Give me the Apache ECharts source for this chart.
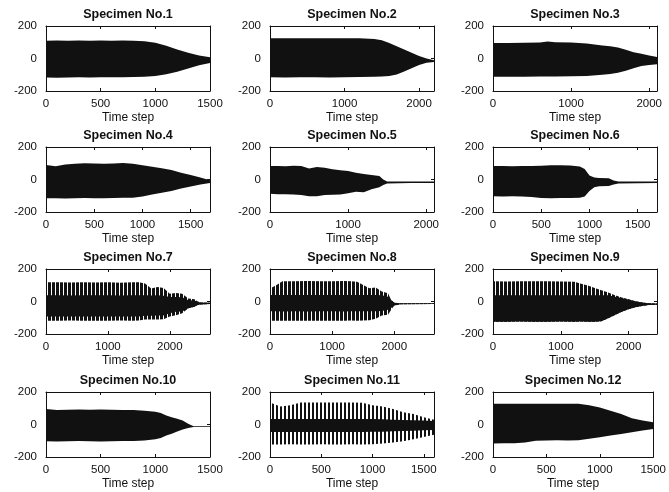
<!DOCTYPE html>
<html>
<head>
<meta charset="utf-8">
<script src="https://cdn.jsdelivr.net/npm/echarts@6/dist/echarts.min.js"></script>
<style>
html, body { margin: 0; padding: 0; background: #fff; }
#chart { width: 669px; height: 492px; }
</style>
</head>
<body>
<div id="chart"></div>
<script>
// envelope of each record (upper / lower amplitude read at time-step knots)
const spec1T  = [0, 100, 200, 300, 400, 500, 600, 700, 800, 900, 1000, 1100, 1200, 1300, 1400, 1500];
const spec1Hi = [110, 111, 110, 111, 110, 111, 110, 111, 110, 106, 97, 78, 55, 35, 18, 8];
const spec1Lo = [-117, -118, -117, -116, -117, -116, -116, -115, -114, -112, -108, -97, -82, -62, -42, -28];

const spec2T  = [0, 200, 400, 600, 800, 1000, 1200, 1400, 1500, 1600, 1700, 1800, 1900, 2000, 2100, 2200];
const spec2Hi = [125, 125, 124, 125, 124, 124, 124, 120, 112, 95, 75, 55, 35, 15, 0, -10];
const spec2Lo = [-115, -117, -116, -115, -117, -116, -114, -112, -110, -108, -98, -80, -60, -40, -26, -22];

const spec3T  = [0, 200, 400, 600, 700, 800, 1000, 1200, 1400, 1500, 1600, 1700, 1800, 1900, 2000, 2100];
const spec3Hi = [95, 96, 97, 98, 105, 100, 99, 92, 80, 75, 68, 54, 38, 29, 19, 10];
const spec3Lo = [-112, -113, -112, -111, -110, -110, -109, -108, -100, -95, -87, -75, -60, -46, -40, -35];

const spec4T  = [0, 100, 200, 300, 400, 500, 600, 700, 800, 900, 1000, 1100, 1200, 1300, 1400, 1500, 1600, 1700];
const spec4Hi = [90, 82, 92, 97, 100, 98, 97, 99, 102, 97, 87, 79, 69, 59, 42, 28, 12, -5];
const spec4Lo = [-115, -116, -117, -115, -114, -116, -115, -114, -113, -112, -104, -92, -82, -70, -56, -43, -31, -22];

const spec5T  = [0, 100, 200, 300, 400, 500, 600, 700, 800, 900, 1000, 1100, 1200, 1300, 1400, 1450, 1500, 1800, 2100];
const spec5Hi = [83, 83, 82, 84, 83, 67, 77, 73, 63, 57, 53, 42, 34, 27, 22, 0, -12, -12, -12];
const spec5Lo = [-88, -90, -90, -92, -95, -103, -103, -96, -94, -92, -84, -76, -79, -60, -48, -34, -24, -22, -22];

const spec6T  = [0, 100, 200, 300, 400, 500, 600, 700, 800, 900, 950, 1000, 1050, 1100, 1200, 1250, 1300, 1700];
const spec6Hi = [83, 83, 82, 83, 83, 84, 88, 88, 86, 80, 65, 24, 13, 9, 8, -6, -12, -12];
const spec6Lo = [-103, -104, -103, -104, -108, -114, -115, -114, -114, -112, -104, -70, -48, -42, -40, -30, -24, -22];

const spec7T  = [0, 200, 400, 600, 800, 1000, 1200, 1400, 1500, 1600, 1700, 1800, 1900, 2000, 2100, 2200, 2300, 2400, 2450, 2500, 2650];
const spec7Hi = [119, 118, 117, 118, 117, 118, 116, 119, 118, 111, 80, 89, 83, 48, 53, 48, 18, 14, 0, -6, -8];
const spec7Lo = [-119, -118, -117, -118, -119, -118, -117, -118, -117, -111, -110, -110, -109, -93, -85, -73, -42, -32, -22, -18, -16];
const spec7CoreHi = [38, 38, 37, 38, 38, 38, 37, 38, 38, 38, 37, 38, 36, 28, 27, 26, 8, 6, -2, -6, -8];
const spec7CoreLo = [-93, -92, -93, -92, -93, -93, -92, -93, -92, -87, -87, -86, -86, -73, -63, -62, -42, -32, -22, -18, -16];

const spec8T  = [0, 100, 200, 400, 600, 800, 1000, 1200, 1300, 1400, 1500, 1600, 1700, 1800, 1900, 1950, 2000, 2100, 2640];
const spec8Hi = [80, 100, 125, 124, 126, 125, 124, 126, 125, 122, 102, 82, 86, 61, 51, 10, -8, -10, -10];
const spec8Lo = [-118, -118, -119, -118, -118, -119, -118, -118, -117, -118, -117, -116, -106, -86, -82, -51, -24, -17, -16];
const spec8CoreHi = [40, 40, 40, 40, 40, 40, 40, 40, 40, 40, 40, 40, 40, 38, 30, 10, -8, -10, -10];
const spec8CoreLo = [-60, -60, -61, -60, -61, -60, -60, -61, -60, -60, -60, -60, -60, -58, -50, -40, -24, -17, -16];

const spec9T  = [0, 200, 400, 600, 800, 1000, 1200, 1300, 1400, 1500, 1600, 1700, 1800, 1900, 2000, 2100, 2200, 2300, 2420];
const spec9Hi = [124, 123, 124, 125, 124, 123, 122, 109, 99, 83, 69, 55, 38, 24, 14, 2, -6, -10, -12];
const spec9Lo = [-124, -124, -123, -124, -124, -123, -124, -123, -124, -124, -122, -103, -83, -63, -47, -35, -27, -22, -20];
const spec9CoreHi = [38, 38, 38, 38, 38, 38, 38, 38, 38, 38, 38, 38, 30, 22, 12, 2, -6, -10, -12];
const spec9CoreLo = [-124, -124, -123, -124, -124, -123, -124, -123, -124, -124, -122, -103, -83, -63, -47, -35, -27, -22, -20];

const spec10T  = [0, 100, 200, 300, 400, 500, 600, 700, 800, 900, 1000, 1050, 1100, 1150, 1200, 1250, 1300, 1350, 1500];
const spec10Hi = [95, 90, 91, 92, 91, 92, 91, 90, 89, 85, 79, 71, 55, 45, 35, 24, 4, -10, -10];
const spec10Lo = [-103, -104, -103, -102, -103, -104, -103, -102, -101, -98, -91, -83, -67, -57, -43, -30, -22, -16, -16];

const spec11T  = [0, 100, 200, 300, 400, 500, 600, 700, 800, 900, 1000, 1100, 1200, 1300, 1400, 1500, 1600];
const spec11Hi = [135, 111, 119, 135, 135, 136, 135, 135, 136, 134, 119, 111, 95, 75, 65, 44, 30];
const spec11Lo = [-123, -123, -122, -123, -123, -122, -123, -123, -122, -123, -121, -117, -111, -103, -91, -77, -63];
const spec11CoreHi = [34, 34, 34, 34, 34, 34, 34, 34, 34, 34, 34, 32, 30, 28, 26, 24, 22];
const spec11CoreLo = [-46, -46, -46, -46, -46, -46, -46, -46, -46, -46, -45, -44, -42, -40, -38, -36, -34];

const spec12T  = [0, 100, 200, 300, 400, 500, 600, 700, 800, 900, 1000, 1100, 1200, 1300, 1400, 1500];
const spec12Hi = [128, 128, 127, 128, 127, 128, 127, 128, 127, 119, 105, 85, 65, 38, 24, 14];
const spec12Lo = [-117, -116, -115, -110, -100, -98, -97, -98, -97, -88, -78, -68, -58, -47, -37, -27];

const titles = ['Specimen No.1', 'Specimen No.2', 'Specimen No.3', 'Specimen No.4',
  'Specimen No.5', 'Specimen No.6', 'Specimen No.7', 'Specimen No.8',
  'Specimen No.9', 'Specimen No.10', 'Specimen No.11', 'Specimen No.12'];
const xMax  = [1500, 2200, 2100, 1700, 2100, 1700, 2650, 2640, 2420, 1500, 1600, 1500];
const xStep = [500, 1000, 1000, 500, 1000, 500, 1000, 1000, 1000, 500, 500, 500];
const yMin = -200, yMax = 200, yStep = 200;

const panels = [
  {t: spec1T, hi: spec1Hi, lo: spec1Lo},
  {t: spec2T, hi: spec2Hi, lo: spec2Lo},
  {t: spec3T, hi: spec3Hi, lo: spec3Lo},
  {t: spec4T, hi: spec4Hi, lo: spec4Lo},
  {t: spec5T, hi: spec5Hi, lo: spec5Lo},
  {t: spec6T, hi: spec6Hi, lo: spec6Lo},
  {t: spec7T, hi: spec7Hi, lo: spec7Lo, coreHi: spec7CoreHi, coreLo: spec7CoreLo, stripe: [3, 1]},
  {t: spec8T, hi: spec8Hi, lo: spec8Lo, coreHi: spec8CoreHi, coreLo: spec8CoreLo, stripe: [3, 1]},
  {t: spec9T, hi: spec9Hi, lo: spec9Lo, coreHi: spec9CoreHi, coreLo: spec9CoreLo, stripe: [3, 1]},
  {t: spec10T, hi: spec10Hi, lo: spec10Lo},
  {t: spec11T, hi: spec11Hi, lo: spec11Lo, coreHi: spec11CoreHi, coreLo: spec11CoreLo, stripe: [2, 2]},
  {t: spec12T, hi: spec12Hi, lo: spec12Lo}
];

// layout of the 4x3 axes (px)
const colLeft = [46, 270, 493];
const rowTop = [26, 147, 269, 392];
const W = 164, H = 65;
const FONT = 'Liberation Sans, Arial, Helvetica, sans-serif';
const INK = '#111';

// vertical stripes imitate the individual oscillation spikes
function stripePattern(on, off) {
  const c = document.createElement('canvas');
  c.width = on + off; c.height = 4;
  const g = c.getContext('2d');
  g.fillStyle = '#111';
  g.fillRect(0, 0, on, 4);
  return {image: c, repeat: 'repeat'};
}

// filled polygon between the upper and lower envelope, placed through the axes
function band(i, t, hi, lo, fill) {
  return {
    type: 'custom', coordinateSystem: 'cartesian2d', xAxisIndex: i, yAxisIndex: i,
    silent: true,
    data: t.map((x, k) => [x, hi[k], lo[k]]),
    encode: {x: 0, y: [1, 2]},
    renderItem: (params, api) => {
      if (params.dataIndex !== 0) return null;
      const pts = [];
      t.forEach((x, k) => pts.push(api.coord([x, hi[k]])));
      for (let k = t.length - 1; k >= 0; k--) pts.push(api.coord([t[k], lo[k]]));
      return {type: 'polygon', shape: {points: pts}, style: {fill: fill, stroke: null}};
    }
  };
}

const grid = [], xAxis = [], yAxis = [], series = [];
const topX = [], rightY = [];

panels.forEach((p, i) => {
  const left = colLeft[i % 3], top = rowTop[Math.floor(i / 3)];
  grid.push({left, top, width: W, height: H, containLabel: false});

  const xBase = {
    type: 'value', gridIndex: i, min: 0, max: xMax[i], interval: xStep[i], z: 5,
    splitLine: {show: false},
    axisLine: {show: true, onZero: false, lineStyle: {color: INK, width: 1}},
    axisTick: {show: true, inside: true, length: 3, lineStyle: {color: INK}}
  };
  xAxis.push(Object.assign({}, xBase, {
    position: 'bottom',
    name: 'Time step', nameLocation: 'middle', nameGap: 21,
    nameTextStyle: {fontFamily: FONT, fontSize: 12, color: INK},
    axisLabel: {
      fontFamily: FONT, fontSize: 11.5, color: INK, margin: 7,
      formatter: v => (v % xStep[i] === 0 ? String(v) : '')
    }
  }));
  topX.push(Object.assign({}, xBase, {
    position: 'top',
    name: titles[i], nameLocation: 'middle', nameGap: 5,
    nameTextStyle: {fontFamily: FONT, fontSize: 12.5, fontWeight: 'bold', color: INK},
    axisLabel: {show: false}
  }));

  const yBase = {
    type: 'value', gridIndex: i, min: yMin, max: yMax, interval: yStep, z: 5,
    splitLine: {show: false},
    axisLine: {show: true, onZero: false, lineStyle: {color: INK, width: 1}},
    axisTick: {show: true, inside: true, length: 3, lineStyle: {color: INK}}
  };
  yAxis.push(Object.assign({}, yBase, {
    position: 'left',
    axisLabel: {fontFamily: FONT, fontSize: 11.5, color: INK, margin: 9}
  }));
  rightY.push(Object.assign({}, yBase, {position: 'right', axisLabel: {show: false}}));

  if (p.coreHi) {
    series.push(band(i, p.t, p.hi, p.lo, stripePattern(p.stripe[0], p.stripe[1])));
    series.push(band(i, p.t, p.coreHi, p.coreLo, '#111'));
  } else {
    series.push(band(i, p.t, p.hi, p.lo, '#111'));
  }
});

const chart = echarts.init(document.getElementById('chart'), null, {renderer: 'canvas'});
chart.setOption({
  backgroundColor: '#fff',
  animation: false,
  grid,
  xAxis: [...xAxis, ...topX],
  yAxis: [...yAxis, ...rightY],
  series
});
</script>
</body>
</html>
